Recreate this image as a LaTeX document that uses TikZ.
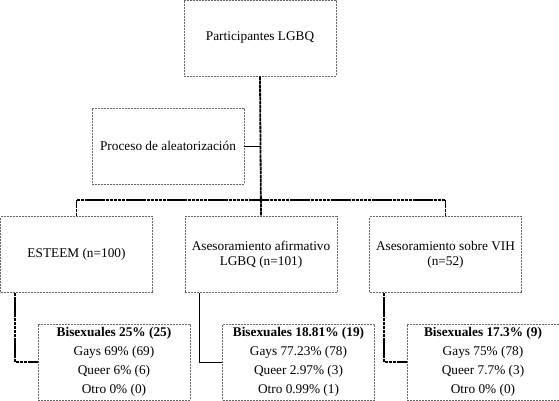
\documentclass[tikz,border=0pt]{standalone}
\usepackage{fontspec}
\setmainfont{Liberation Serif}
\usetikzlibrary{positioning}

\begin{document}
\begin{tikzpicture}[x=1pt, y=-1pt,
        every node/.style={font=\fontsize{13.3}{15}\selectfont},
        caja/.style={draw=gray!80!black, dash pattern=on 2pt off 1pt, line width=0.8pt, minimum width=152pt, minimum height=76pt, inner sep=0pt, align=center},
        datos/.style={caja, font=\fontsize{13.3}{19}\selectfont},
        bus/.style={black, line width=1.8pt, dash pattern=on 3.5pt off 0.6pt},
        fino/.style={black, line width=0.9pt}]
            \useasboundingbox (0,0) rectangle (559,401);

            % Top boxes
            \node[caja] (part) at (260,38) {Participantes LGBQ};
            \node[caja] (azar) at (168,146) {Proceso de aleatorización};
            \coordinate (cruce) at (260,200);

            % Groups and their data
            \foreach \c/\txt/\bis/\gay/\que/\otr/\lk in {
                0/{ESTEEM (n=100)}/{25\% (25)}/{69\% (69)}/{6\% (6)}/{0\% (0)}/bus,
                1/{Asesoramiento afirmativo\\LGBQ (n=101)}/{18.81\% (19)}/{77.23\% (78)}/{2.97\% (3)}/{0.99\% (1)}/fino,
                2/{Asesoramiento sobre VIH\\(n=52)}/{17.3\% (9)}/{75\% (78)}/{7.7\% (3)}/{0\% (0)}/bus} {
                \pgfmathsetmacro{\xr}{76.5 + 184.5*\c}
                \pgfmathsetmacro{\xs}{\xr + 37.5}
                \node[caja] (fila\c) at (\xr,254.5) {\txt};
                \node[datos] (dato\c) at (\xs,362) {\textbf{Bisexuales \bis}\\Gays \gay\\Queer \que\\Otro \otr};
                \draw[\lk] ([xshift=15pt]fila\c.south west) |- (dato\c.west);
            }

            % Edges
            \draw[bus] (part.south) -- (fila1.north);
            \draw[bus] (fila0.north) |- (cruce) -| (fila2.north);
            \draw[fino] (azar.east) -- (azar.east -| part.south);
        \end{tikzpicture}
\end{document}
